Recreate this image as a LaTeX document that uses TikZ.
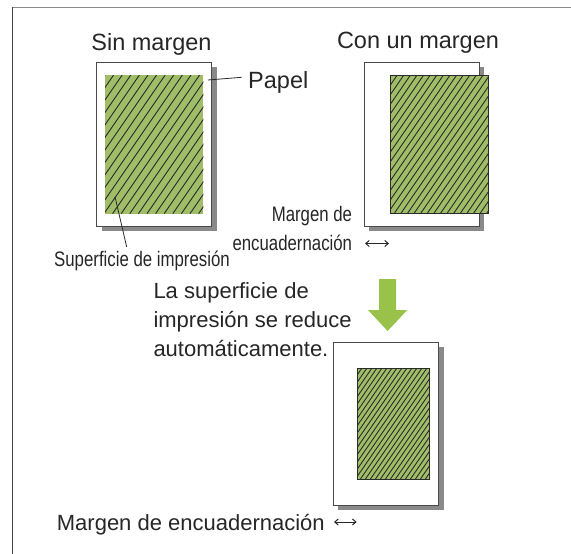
\documentclass[tikz,border=0pt]{standalone}
\usepackage{fontspec}
\usepackage{graphicx}
\setmainfont{Liberation Sans}
\usetikzlibrary{arrows.meta}
\definecolor{printgreen}{HTML}{9FBE67}
\definecolor{arrowgreen}{HTML}{99C24A}
\definecolor{shadowgray}{HTML}{8A8A8A}
\definecolor{paperedge}{HTML}{4A4A4A}
\definecolor{hatchdark}{HTML}{2A2A2A}
\tikzset{
  paperbox/.style={fill=white, draw=paperedge, line width=1pt},
  shadowbox/.style={fill=shadowgray, draw=none},
  greenbox/.style={fill=printgreen, draw=none},
  greenedge/.style={draw=hatchdark, line width=0.9pt},
  hatchline/.style={draw=hatchdark, line width=0.9pt},
  leader/.style={draw=hatchdark, line width=0.8pt},
  heading/.style={inner sep=0pt, font=\fontsize{23.5}{28}\selectfont, text=black!85},
  bodytext/.style={inner sep=0pt, font=\fontsize{22}{29}\selectfont, text=black!85},
  smalltext/.style={inner sep=0pt, font=\fontsize{21}{26}\selectfont, text=black!85},
  bindarrow/.style={{Straight Barb[length=3.5pt,width=6pt]}-{Straight Barb[length=3.5pt,width=6pt]}, line width=1pt, draw=black!85},
}
\newcommand{\hatchbox}[5]{%
  \begin{scope}
    \clip (#1,#2) rectangle (#3,#4);
    \pgfmathsetmacro{\hh}{#4-#2}
    \pgfmathsetmacro{\dd}{\hh/1.45}
    \foreach \i in {0,...,50}{
      \pgfmathsetmacro{\xs}{#1-\dd+\i*#5}
      \draw[hatchline] (\xs,#4) -- ++(\dd,-\hh);
    }
  \end{scope}}
\begin{document}
\begin{tikzpicture}[x=1pt,y=-1pt]
\useasboundingbox (0,0) rectangle (571,554);
% frame
\draw[draw=shadowgray, line width=1.6pt] (571,7.5) -- (12,7.5);
\draw[draw=black!75, line width=1.6pt] (12.5,6.7) -- (12.5,554);

% ---- Sin margen ----
\node[heading, anchor=base] (sinm) at (151.5,50) {Sin margen};
\fill[shadowbox] (101.7,67.3) rectangle (216.7,231);
\draw[paperbox] (96.7,62.3) rectangle (211.7,226);
\fill[greenbox] (105,75) rectangle (203.3,213.7);
\hatchbox{105}{75}{203.3}{213.7}{8.6}
\node[heading, anchor=base west] (papel) at (248,88.3) {Papel};
\coordinate (papelpt) at (208,80);
\coordinate (papelend) at (241.7,77.3);
\draw[leader] (papelpt) -- (papelend);
\node[smalltext, anchor=base west] (superf) at (54,266.7) {\scalebox{0.8}[1]{Superficie de impresión}};
\coordinate (superfpt) at (115,196.7);
\coordinate (superfend) at (126.7,247);
\draw[leader] (superfpt) -- (superfend);

% ---- Con un margen ----
\node[heading, anchor=base] (conm) at (418,48.3) {Con un margen};
\fill[shadowbox] (369,67.3) rectangle (484.3,231);
\draw[paperbox] (364,62.3) rectangle (479.3,226);
\fill[greenbox] (390.7,75) rectangle (488.7,213.7);
\hatchbox{390.7}{75}{488.7}{213.7}{6.6}
\draw[greenedge] (390.7,75) rectangle (488.7,213.7);
\node[smalltext, anchor=base east] (mde) at (352.3,221.7) {\scalebox{0.8}[1]{Margen de}};
\node[smalltext, anchor=base east] (encu) at (352.3,250.3) {\scalebox{0.8}[1]{encuadernación}};
\coordinate (ua) at (365,243.5);
\coordinate (ub) at (389,243.5);
\draw[bindarrow] (ua) -- (ub);

% ---- arrow ----
\fill[arrowgreen] (379,279) -- (396,279) -- (396,310) -- (407.3,310) -- (387.6,331) -- (368,310) -- (379,310) -- cycle;
\node[bodytext, anchor=base west] (l1) at (153.3,298.3) {La superficie de};
\node[bodytext, anchor=base west] (l2) at (153.3,327) {impresión se reduce};
\node[bodytext, anchor=base west] (l3) at (153.3,356) {automáticamente.};

% ---- reduced ----
\fill[shadowbox] (338.3,347) rectangle (443.7,509.5);
\draw[paperbox] (333.3,342) rectangle (438.7,505.3);
\fill[greenbox] (357,368) rectangle (429.7,479.7);
\hatchbox{357}{368}{429.7}{479.7}{5}
\draw[greenedge] (357,368) rectangle (429.7,479.7);
\node[bodytext, anchor=base west] (mbot) at (56.7,530) {Margen de encuadernación};
\coordinate (ba) at (334,522);
\coordinate (bb) at (356.7,522);
\draw[bindarrow] (ba) -- (bb);
\end{tikzpicture}
\end{document}
